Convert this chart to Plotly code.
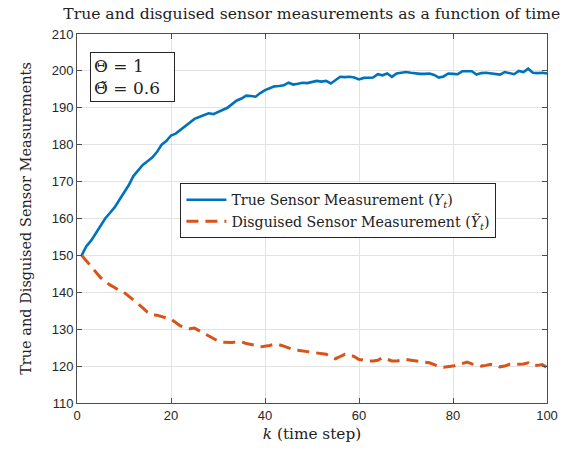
import plotly.graph_objects as go

k = list(range(1, 101))

true_meas = [150, 152.5, 154, 156, 158, 160, 161.5, 163, 165, 167,
             169, 171.5, 173, 174.5, 175.5, 176.5, 178, 180, 181, 182.5,
             183, 184, 185, 186, 187, 187.5, 188, 188.5, 188.3, 188.8,
             189.5, 190, 191, 192, 192.5, 193.3, 193.2, 193, 194, 194.8,
             195.3, 195.8, 195.9, 196.1, 196.8, 196.3, 196.5, 196.8, 196.7, 196.9,
             197.3, 197.1, 197.3, 196.6, 197.6, 198.4, 198.3, 198.4, 198.2, 197.7,
             198.1, 198.2, 198.2, 199.1, 198.8, 199.3, 198.4, 199.3, 199.5, 199.7,
             199.5, 199.3, 199.2, 199.2, 199.3, 198.9, 198.2, 198.5, 199.3, 199.2,
             199.1, 199.9, 199.9, 199.9, 199.0, 199.4, 199.5, 199.3, 199.3, 199.0,
             199.7, 199.3, 199.1, 200.0, 199.7, 200.6, 199.5, 199.4, 199.5, 199.3]

disguised_meas = [150, 148.5, 147, 145.5, 144, 143, 142, 141.3, 140.5, 140,
                  139, 137.8, 136.8, 135.8, 134.6, 133.9, 133.8, 133.5, 133, 132.7,
                  131.8, 130.9, 130.3, 130.1, 130.3, 129.6, 128.8, 128, 127.3, 126.8,
                  126.5, 126.4, 126.4, 126.6, 126.6, 126.1, 125.9, 125.6, 125.2, 125.3,
                  125.6, 125.9, 125.8, 125.4, 124.9, 124.5, 124.3, 124.1, 123.9, 123.6,
                  123.4, 123.3, 123.2, 122.6, 122.0, 122.6, 123.2, 123.0, 122.6, 121.8,
                  121.5, 121.4, 121.4, 121.6, 122.3, 121.9, 121.4, 121.4, 121.6, 121.8,
                  121.6, 121.4, 121.2, 121.0, 120.9, 120.4, 119.9, 119.7, 119.8, 120.0,
                  120.3, 120.6, 121.1, 120.6, 120.2, 120.0, 120.2, 120.5, 120.3, 119.8,
                  120.0, 120.5, 120.5, 120.5, 120.6, 120.9, 120.1, 120.2, 120.4, 119.6]

x_ticks = [0, 20, 40, 60, 80, 100]
y_ticks = [110, 120, 130, 140, 150, 160, 170, 180, 190, 200, 210]

SERIF = "DejaVu Serif"
SANS = "Liberation Sans, Arial, sans-serif"

fig = go.Figure()
fig.add_trace(go.Scatter(
    x=k, y=true_meas, mode="lines",
    name="True Sensor Measurement (<i>Y</i><sub><i>t</i></sub>)",
    line=dict(color="#0072BD", width=2.6)))
fig.add_trace(go.Scatter(
    x=k, y=disguised_meas, mode="lines",
    name="Disguised Sensor Measurement (<i>\u1EF8</i><sub><i>t</i></sub>)",
    line=dict(color="#D95319", width=3, dash="12px,7px")))

axis_common = dict(
    showline=True, linecolor="#4d4d4d", linewidth=1, mirror="ticks",
    ticks="inside", ticklen=5, tickcolor="#4d4d4d",
    showgrid=True, gridcolor="#e3e3e3", gridwidth=1, zeroline=False,
    tickfont=dict(family=SANS, size=13, color="#262626"))

fig.update_layout(
    width=569, height=453,
    margin=dict(l=77, r=22, t=34, b=50),
    paper_bgcolor="white", plot_bgcolor="white",
    title=dict(text="True and disguised sensor measurements as a function of time",
               x=0.548, xanchor="center", y=0.970, yanchor="middle",
               font=dict(family=SERIF, size=15.6, color="#222")),
    xaxis=dict(range=[0, 100], tickvals=x_ticks,
               title=dict(text="<i>k</i> (time step)", standoff=6,
                          font=dict(family=SERIF, size=15.3, color="#222")),
               **axis_common),
    yaxis=dict(range=[110, 210], tickvals=y_ticks,
               title=dict(text="True and Disguised Sensor Measurements", standoff=16,
                          font=dict(family=SERIF, size=14.5, color="#222")),
               **axis_common),
    legend=dict(x=0.22, y=0.596, xanchor="left", yanchor="top",
                bgcolor="white", bordercolor="#262626", borderwidth=1,
                font=dict(family=SERIF, size=14.2, color="#222"),
                tracegroupgap=0, itemwidth=40),
    showlegend=True,
)

fig.add_annotation(
    xref="paper", yref="paper", x=0.027, y=0.952, xanchor="left", yanchor="top",
    text="\u0398 = 1<br>\u0398\u0303 = 0.6", showarrow=False, align="left",
    width=77, height=42, valign="middle",
    font=dict(family=SERIF, size=17, color="#222"),
    bordercolor="#262626", borderwidth=1, borderpad=3, bgcolor="white")

fig.write_html("out.html")
